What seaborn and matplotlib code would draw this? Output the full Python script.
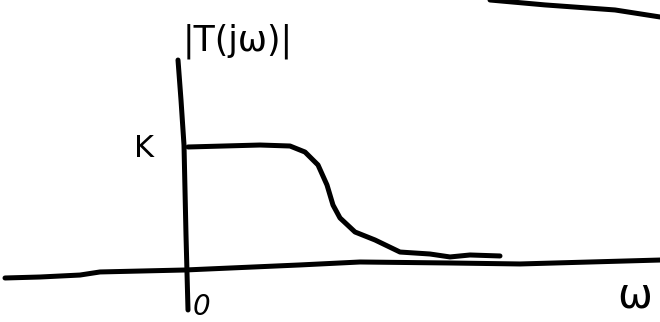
import numpy as np
import pandas as pd
import matplotlib
matplotlib.use("Agg")
import matplotlib.pyplot as plt
import seaborn as sns

# curva |T(jw)| (en unidades de K)
omega = [0.02, 0.74, 1.04, 1.19, 1.32, 1.41, 1.47, 1.54, 1.69, 1.89, 2.14, 2.44, 2.64, 2.84, 3.14]
mag = [1.0, 1.016, 1.008, 0.959, 0.854, 0.691, 0.528, 0.423, 0.309, 0.244, 0.146, 0.130, 0.106, 0.122, 0.114]

# ejes dibujados a mano
eje_x_w = [-1.81, -1.46, -1.06, -0.86, -0.01, 1.14, 1.74, 2.64, 3.34, 4.74]
eje_x_y = [-0.065, -0.057, -0.041, -0.016, 0.0, 0.041, 0.065, 0.057, 0.049, 0.081]
eje_y_w = [-0.08, -0.05, -0.02, 0.0, 0.0, 0.02]
eje_y_y = [1.707, 1.382, 1.016, 0.569, 0.0, -0.325]

# trazo de arriba a la derecha
trazo_w = [3.04, 3.59, 4.29, 4.74]
trazo_y = [2.195, 2.155, 2.114, 2.057]

sns.set_style("white")

fig = plt.figure(figsize=(6.6, 3.22), dpi=100)
ax = fig.add_axes([0, 0, 1, 1])

lw = 3.6
for xs, ys in [(omega, mag), (eje_x_w, eje_x_y), (eje_y_w, eje_y_y), (trazo_w, trazo_y)]:
    df = pd.DataFrame({"w": xs, "v": ys})
    sns.lineplot(data=df, x="w", y="v", sort=False, color="black", lw=lw,
                 ax=ax, solid_capstyle="round", solid_joinstyle="round")

ax.text(0.52, 1.86, "|T(jω)|", fontsize=25, ha="center", va="center", color="black")
ax.text(-0.42, 0.99, "K", fontsize=22, ha="center", va="center", color="black")
ax.text(0.15, -0.30, "0", fontsize=20, ha="center", va="center", style="italic", color="black")
ax.text(4.49, -0.21, "ω", fontsize=30, ha="center", va="center", color="black")

ax.set_xlim(-1.86, 4.74)
ax.set_ylim(-0.4228, 2.195)
ax.axis("off")

fig.savefig("out.png", dpi=100, facecolor="white")
